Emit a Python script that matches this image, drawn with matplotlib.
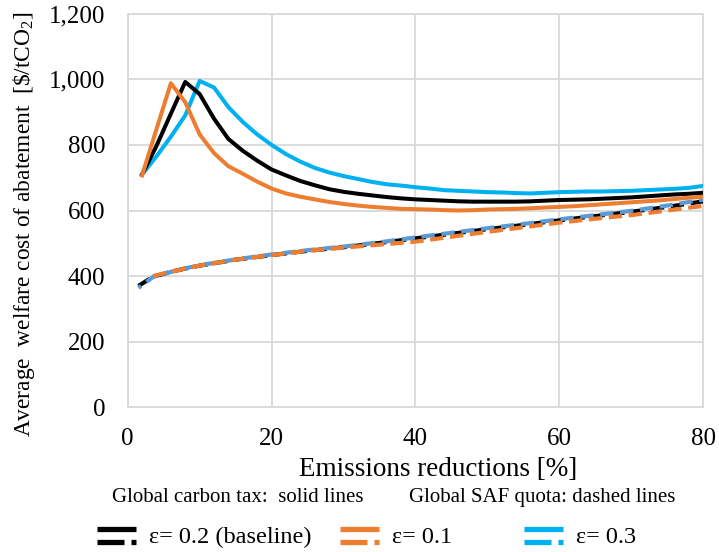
import matplotlib
matplotlib.use("Agg")
import matplotlib.pyplot as plt
from matplotlib.lines import Line2D
from matplotlib.legend_handler import HandlerBase
from matplotlib.ticker import FuncFormatter

plt.rcParams['font.family'] = ['Liberation Serif', 'DejaVu Serif']
plt.rcParams['mathtext.fontset'] = 'custom'
plt.rcParams['mathtext.rm'] = 'Liberation Serif'
plt.rcParams['mathtext.it'] = 'Liberation Serif:italic'

# global carbon tax (solid lines)
x_tax = [2, 4, 6, 8, 10, 12, 14, 16, 18, 20, 22, 24, 26, 28, 30, 32, 34, 36, 38, 40,
         42, 44, 46, 48, 50, 52, 54, 56, 58, 60, 62, 64, 66, 68, 70, 72, 74, 76, 78, 80]
tax_base = [710, 797, 895, 992, 955, 880, 818, 782, 752, 725, 707, 690, 677, 665, 657, 651, 646, 641, 637, 634,
            632, 630, 628, 627, 627, 627, 627, 628, 630, 632, 633, 634, 636, 638, 640, 643, 646, 649, 651, 654]
tax_low = [707, 848, 988, 930, 832, 775, 735, 712, 688, 667, 652, 642, 634, 626, 620, 615, 611, 608, 605, 604,
           603, 601, 600, 601, 603, 604, 605, 607, 609, 611, 613, 616, 619, 622, 625, 628, 631, 635, 639, 642]
tax_high = [710, 765, 825, 890, 995, 975, 915, 870, 832, 800, 772, 749, 730, 716, 705, 696, 687, 680, 676, 671,
            667, 662, 660, 658, 656, 655, 653, 652, 654, 656, 657, 658, 658, 659, 660, 662, 664, 666, 669, 675]

# global SAF quota (dashed lines)
x_quota = [1.5, 3.5, 6, 8, 10, 15, 20, 25, 30, 35, 40, 45, 50, 55, 60, 65, 70, 75, 80]
quota_base = [370, 398, 413, 423, 432, 450, 464, 477, 488, 501, 515, 529, 543, 556, 570, 583, 596, 611, 628]
quota_high = [364, 397, 413, 424, 433, 451, 466, 479, 490, 503, 518, 532, 546, 559, 573, 586, 599, 615, 633]
x_quota_low = [3.5, 6, 8, 10, 15, 20, 25, 30, 35, 40, 45, 50, 55, 60, 65, 70, 75, 80]
quota_low = [400, 413, 423, 432, 450, 464, 477, 487, 496, 505, 520, 535, 549, 563, 575, 586, 600, 614]

labels = ['\u03b5= 0.2 (baseline)', '\u03b5= 0.1', '\u03b5= 0.3']

BLACK = '#000000'
ORANGE = '#ED7D31'
CYAN = '#00B0F0'
STEEL = '#5B9BD5'
GRID = '#D9D9D9'


class SolidDashHandler(HandlerBase):
    # solid bar on top, broken dash underneath
    def create_artists(self, legend, orig_handle, xdescent, ydescent,
                       width, height, fontsize, trans):
        c = orig_handle.get_color()
        lw = 3.8
        y1 = height * 0.85 - ydescent
        y2 = height * 0.05 - ydescent
        x0 = -xdescent
        top = Line2D([x0, x0 + width], [y1, y1], color=c, lw=lw, solid_capstyle='butt')
        low1 = Line2D([x0, x0 + width * 0.7], [y2, y2], color=c, lw=lw, solid_capstyle='butt')
        low2 = Line2D([x0 + width * 0.86, x0 + width], [y2, y2], color=c, lw=lw, solid_capstyle='butt')
        for a in (top, low1, low2):
            a.set_transform(trans)
        return [top, low1, low2]


fig = plt.figure(figsize=(7.19, 5.52), dpi=100)
ax = fig.add_axes([0.1776, 0.2621, 0.8004, 0.7131])

ax.plot(x_quota, quota_base, color=BLACK, lw=3.0, linestyle=(0, (3.2, 1.6)), dash_capstyle='butt', zorder=3)
ax.plot(x_quota, quota_high, color=STEEL, lw=3.0, linestyle=(2.4, (3.2, 1.6)), dash_capstyle='butt', zorder=4)
ax.plot(x_quota_low, quota_low, color=ORANGE, lw=3.0, linestyle=(0.0, (3.2, 1.6)), dash_capstyle='butt', zorder=5)

ax.plot(x_tax, tax_high, color=CYAN, lw=2.9, zorder=6)
ax.plot(x_tax, tax_base, color=BLACK, lw=2.9, zorder=7)
ax.plot(x_tax, tax_low, color=ORANGE, lw=2.9, zorder=8)

ax.set_xlim(0, 80)
ax.set_ylim(0, 1200)
ax.set_xticks([0, 20, 40, 60, 80])
ax.set_yticks(range(0, 1201, 200))
ax.yaxis.set_major_formatter(FuncFormatter(lambda v, p: f'{int(v):,}'))
ax.grid(True, color=GRID, lw=1.3)
ax.set_axisbelow(True)
for s in ax.spines.values():
    s.set_color(GRID)
    s.set_linewidth(1.3)
ax.tick_params(length=0, labelsize=18, colors='black')
ax.tick_params(axis='y', pad=16)
ax.tick_params(axis='x', pad=15)

ax.set_xlabel('Emissions reductions [%]', fontsize=19.5)
ax.xaxis.set_label_coords(0.539, -0.125)
ax.set_ylabel(r'Average  welfare cost of abatement  [\$/tCO$_2$]', fontsize=16.8)
ax.yaxis.set_label_coords(-0.158, 0.466)

fig.text(0.156, 0.099, 'Global carbon tax:  solid lines', fontsize=15, va='center')
fig.text(0.569, 0.099, 'Global SAF quota: dashed lines', fontsize=15, va='center')

handles = [Line2D([], [], color=BLACK), Line2D([], [], color=ORANGE), Line2D([], [], color=CYAN)]
anchors = [0.135, 0.473, 0.729]
for h, lab, xa in zip(handles, labels, anchors):
    fig.legend([h], [lab], loc='center left', bbox_to_anchor=(xa, 0.027),
               frameon=False, fontsize=17.5, handlelength=1.6, handletextpad=0.55,
               borderpad=0, borderaxespad=0, handler_map={Line2D: SolidDashHandler()})

fig.savefig('out.png', dpi=100)
